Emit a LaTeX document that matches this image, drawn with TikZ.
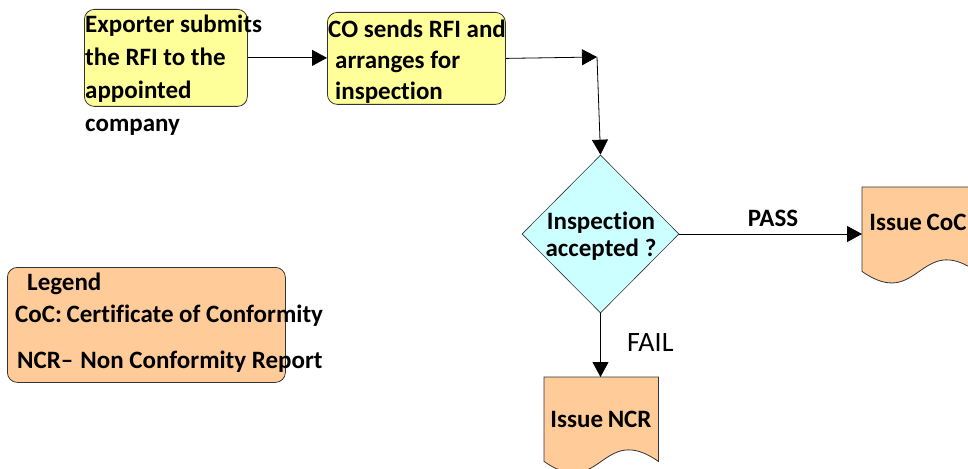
\documentclass[tikz,border=0pt]{standalone}
\usepackage{fontspec}
\setmainfont[Ligatures=NoCommon]{Carlito}
\usetikzlibrary{arrows.meta,shapes.geometric}
\definecolor{stepyellow}{RGB}{255,255,153}
\definecolor{decisioncyan}{RGB}{204,255,255}
\definecolor{docpeach}{RGB}{255,204,153}
\tikzset{
  stepbox/.style={draw=black!80,fill=stepyellow,rounded corners=10pt,line width=0.8pt,inner sep=0pt},
  decision/.style={diamond,draw=black!80,fill=decisioncyan,line width=0.6pt,inner sep=0pt,minimum width=157pt,minimum height=158pt},
  docbox/.style={rectangle,inner sep=0pt,minimum width=114pt,minimum height=84pt},
  docline/.style={draw=black!80,fill=docpeach,line width=0.8pt},
  flow/.style={-{Triangle[length=15pt,width=16pt]},line width=0.8pt,draw=black},
  txt/.style={inner sep=0pt,align=left}
}
\begin{document}
\begin{tikzpicture}[x=1pt,y=-1pt,font=\bfseries\fontsize{25}{33}\selectfont]
\useasboundingbox (0,0) rectangle (968,468);
% process boxes
\node[stepbox,minimum width=163pt,minimum height=97pt,anchor=north west] (rfi) at (84,9) {};
\node[stepbox,minimum width=178pt,minimum height=92pt,anchor=north west] (co) at (327,12) {};
\node[txt,anchor=north west] (rfitext) at (85,15) {Exporter submits\\the RFI to the\\appointed\\company};
\node[txt,anchor=north west,font=\bfseries\fontsize{25}{31}\selectfont] (cotext) at (328,20) {CO sends RFI and\\\hspace*{7pt}arranges for\\\hspace*{7pt}inspection};
% decision
\node[decision] (insp) at (600.5,234) {};
\node[txt,align=center,anchor=north,font=\bfseries\fontsize{25}{27}\selectfont] (insptext) at (601,212) {Inspection\\accepted ?};
% documents
\node[docbox,anchor=north west] (coc) at (862,187) {};
\node[docbox,anchor=north west] (ncr) at (544,377) {};
\filldraw[docline] (coc.south west) -- (coc.north west) -- (coc.north east) -- (coc.south east)
  .. controls +(-57,-40) and +(57,40) .. (coc.south west) -- cycle;
\filldraw[docline] (ncr.south west) -- (ncr.north west) -- (ncr.north east) -- (ncr.south east)
  .. controls +(-57,-40) and +(57,40) .. (ncr.south west) -- cycle;
\node[txt,anchor=base] (coctext) at (918,230) {Issue\hspace{-1pt} CoC};
\node[txt,anchor=base] (ncrtext) at (601,427) {Issue\hspace{-1pt} NCR};
% legend
\node[stepbox,fill=docpeach,minimum width=278pt,minimum height=115pt,anchor=north west] (legend) at (7,267) {};
\node[txt,anchor=base west] (legtitle) at (27,290) {Legend};
\node[txt,anchor=base west] (legcoc) at (15,322) {CoC:\hspace{-1pt} Certificate of Conformity};
\node[txt,anchor=base west] (legncr) at (17,368) {NCR–\hspace{7pt}Non Conformity Report};
% connectors
\coordinate (turn) at (597,57);
\draw[flow] (rfi.east) -- (rfi.east -| co.west);
\draw[flow] (co.east) -- (turn);
\draw[flow] (turn) -- (insp.north);
\draw[flow] (insp.east) -- (insp.east -| coc.west);
\draw[flow] (insp.south) -- (insp.south |- ncr.north);
\node[txt,anchor=base] (passtext) at (773,226) {PASS};
\node[txt,anchor=base west,font=\normalfont\fontsize{28}{28}\selectfont] (failtext) at (627,351) {FAIL};
\end{tikzpicture}
\end{document}
